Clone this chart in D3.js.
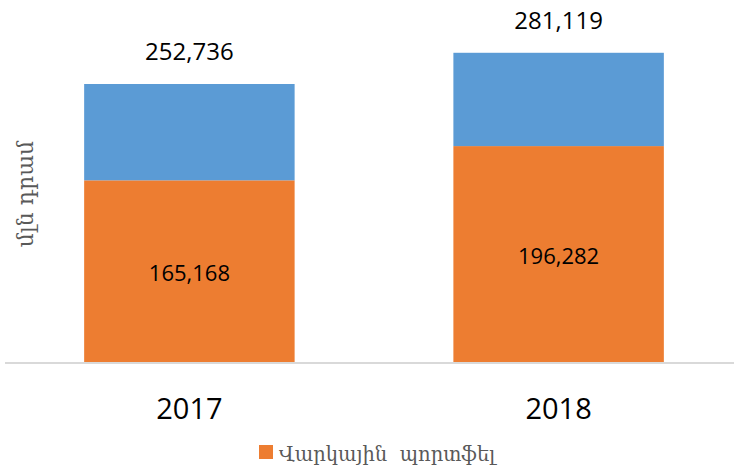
<!DOCTYPE html>
<html>
<head>
<meta charset="utf-8">
<script src="https://cdn.jsdelivr.net/npm/d3@7"></script>
<style>
  body { margin: 0; background: #fff; }
  svg { display: block; }
</style>
</head>
<body>
<script>
// data
var years = ["2017", "2018"];
var loans = [165168, 196282];   // Վարկային պորտֆել (orange)
var totals = [252736, 281119];  // top labels
var other = [87568, 84837];     // blue part = total - loans

var W = 734, H = 471;
var svg = d3.select("body").append("svg")
  .attr("width", W)
  .attr("height", H);

var baseY = 362;
var x = d3.scaleBand().domain(years).range([14, 734]).paddingInner(0.43).paddingOuter(0.19);
var y = d3.scaleLinear().domain([0, 252736]).range([baseY, 84]);

var rows = years.map(function(d, i) {
  return { year: d, loans: loans[i], other: other[i], total: totals[i] };
});

var stack = d3.stack().keys(["loans", "other"])(rows);
var colors = { loans: "#ed7d31", other: "#5b9bd5" };

svg.selectAll("g.layer")
  .data(stack)
  .enter().append("g")
  .attr("class", "layer")
  .attr("fill", function(d) { return colors[d.key]; })
  .selectAll("rect")
  .data(function(d) { return d; })
  .enter().append("rect")
  .attr("x", function(d) { return x(d.data.year); })
  .attr("width", x.bandwidth())
  .attr("y", function(d) { return y(d[1]); })
  .attr("height", function(d) { return y(d[0]) - y(d[1]); });

// baseline
svg.append("line")
  .attr("x1", 5).attr("x2", 734)
  .attr("y1", baseY + 1).attr("y2", baseY + 1)
  .attr("stroke", "#d9d9d9")
  .attr("stroke-width", 2);

var fmt = d3.format(",");
var numFont = "'Open Sans', sans-serif";

// labels inside orange
svg.selectAll("text.inner")
  .data(rows)
  .enter().append("text")
  .attr("class", "inner")
  .attr("x", function(d) { return x(d.year) + x.bandwidth() / 2; })
  .attr("y", function(d) { return (y(0) + y(d.loans)) / 2 + 10; })
  .attr("text-anchor", "middle")
  .style("font-family", numFont)
  .style("font-size", "22px")
  .style("fill", "#000")
  .text(function(d) { return fmt(d.loans); });

// total labels
svg.selectAll("text.total")
  .data(rows)
  .enter().append("text")
  .attr("class", "total")
  .attr("x", function(d) { return x(d.year) + x.bandwidth() / 2; })
  .attr("y", function(d) { return y(d.total) - 24; })
  .attr("text-anchor", "middle")
  .style("font-family", numFont)
  .style("font-size", "24px")
  .style("fill", "#000")
  .text(function(d) { return fmt(d.total); });

// x axis labels
svg.selectAll("text.year")
  .data(years)
  .enter().append("text")
  .attr("class", "year")
  .attr("x", function(d) { return x(d) + x.bandwidth() / 2; })
  .attr("y", 419)
  .attr("text-anchor", "middle")
  .style("font-family", numFont)
  .style("font-size", "29px")
  .style("fill", "#000")
  .text(function(d) { return d; });

// y axis title
svg.append("text")
  .attr("transform", "translate(33,194) rotate(-90)")
  .attr("text-anchor", "middle")
  .style("font-family", "'DejaVu Serif', serif")
  .style("font-size", "22px")
  .style("fill", "#595959")
  .text("մլն դրամ");

// legend
svg.append("rect")
  .attr("x", 259).attr("y", 445)
  .attr("width", 14).attr("height", 14)
  .attr("fill", colors.loans);

svg.append("text")
  .attr("x", 279).attr("y", 461)
  .style("font-family", "'DejaVu Serif', serif")
  .style("font-size", "19.5px")
  .style("fill", "#595959")
  .style("white-space", "pre")
  .text("Վարկային  պորտֆել");
</script>
</body>
</html>
